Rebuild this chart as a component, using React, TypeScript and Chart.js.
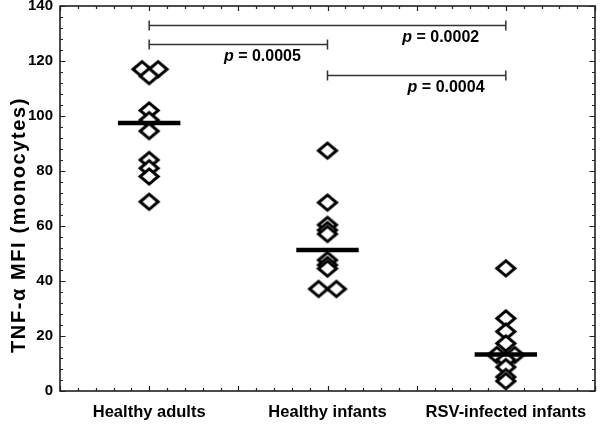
import React, { useEffect, useRef } from 'react';
import { Chart, registerables } from 'chart.js';

Chart.register(...registerables);

// ---- data ----
const categories = ['Healthy adults', 'Healthy infants', 'RSV-infected infants'];
const adultsValues = [117, 117, 114.5, 102, 98.5, 94.5, 84, 81, 78, 68.8];
const adultsJitter = [-0.08, 0.1, 0, 0, 0, 0, 0, 0, 0, 0];
const infantsValues = [87.4, 68.5, 60.4, 58.5, 57.1, 47.6, 45.8, 44.5, 37.1, 37.1];
const infantsJitter = [0, 0, 0, 0, 0, 0, 0, 0, -0.1, 0.1];
const rsvValues = [44.6, 26.4, 21.6, 17.3, 13.1, 13.1, 11.3, 8.7, 5.1, 3.6];
const rsvJitter = [0, 0, 0, 0, -0.1, 0.1, 0, 0, 0, 0];
const meanValues = [97.5, 51.3, 13.3];

const yMin = 0;
const yMax = 140;
const yMajorStep = 20;
const yMinorStep = 4;

// significance brackets (category indices, y value, p value, label centre in x units)
const bracketFrom = [0, 0, 1];
const bracketTo = [2, 1, 2];
const bracketY = [133, 126, 115];
const pValues = ['0.0002', '0.0005', '0.0004'];
const pLabelX = [4.27, 2.27, 4.33];

const yTitle = 'TNF-\u03b1 MFI (monocytes)';

const FONT = '"Liberation Sans", Arial, Helvetica, sans-serif';

const catX = (i: number) => 2 * i + 1;

function makeDiamond(): HTMLCanvasElement {
  const c = document.createElement('canvas');
  c.width = 26;
  c.height = 23;
  const g = c.getContext('2d')!;
  const cx = 13, cy = 11.5, hw = 9, hh = 7.6;
  g.beginPath();
  g.moveTo(cx - hw, cy);
  g.lineTo(cx, cy - hh);
  g.lineTo(cx + hw, cy);
  g.lineTo(cx, cy + hh);
  g.closePath();
  g.fillStyle = '#ffffff';
  g.fill();
  g.lineWidth = 3;
  g.strokeStyle = '#000000';
  g.lineJoin = 'miter';
  g.stroke();
  return c;
}

const decorPlugin = {
  id: 'decor',
  afterDraw(chart: any) {
    const ctx = chart.ctx as CanvasRenderingContext2D;
    const xs = chart.scales.x;
    const ys = chart.scales.y;
    const { left, right, top, bottom } = chart.chartArea;
    ctx.save();

    // frame
    ctx.strokeStyle = '#111';
    ctx.lineWidth = 1.5;
    ctx.strokeRect(left, top, right - left, bottom - top);

    // inward ticks
    ctx.lineWidth = 1.2;
    ctx.strokeStyle = '#222';
    ctx.beginPath();
    for (let v = xs.min; v <= xs.max + 1e-6; v += 0.2) {
      const major = Math.abs(v - Math.round(v)) < 1e-6;
      const len = major ? 5 : 3;
      const px = Math.round(xs.getPixelForValue(v)) + 0.5;
      ctx.moveTo(px, bottom);
      ctx.lineTo(px, bottom - len);
      ctx.moveTo(px, top);
      ctx.lineTo(px, top + len);
    }
    for (let v = yMin; v <= yMax + 1e-6; v += yMinorStep) {
      const major = v % yMajorStep === 0;
      const len = major ? 5.5 : 3;
      const py = Math.round(ys.getPixelForValue(v)) + 0.5;
      ctx.moveTo(left, py);
      ctx.lineTo(left + len, py);
      ctx.moveTo(right, py);
      ctx.lineTo(right - len, py);
    }
    ctx.stroke();

    // brackets
    ctx.strokeStyle = '#333';
    ctx.lineWidth = 1.5;
    for (let i = 0; i < bracketY.length; i++) {
      const x1 = xs.getPixelForValue(catX(bracketFrom[i]));
      const x2 = xs.getPixelForValue(catX(bracketTo[i]));
      const y = Math.round(ys.getPixelForValue(bracketY[i])) + 0.5;
      ctx.beginPath();
      ctx.moveTo(x1, y);
      ctx.lineTo(x2, y);
      ctx.moveTo(x1, y - 5);
      ctx.lineTo(x1, y + 5);
      ctx.moveTo(x2, y - 5);
      ctx.lineTo(x2, y + 5);
      ctx.stroke();

      // label
      const cx = xs.getPixelForValue(pLabelX[i]);
      const cy = y + 12;
      ctx.fillStyle = '#000';
      ctx.textBaseline = 'middle';
      const italic = `italic bold 16px ${FONT}`;
      const normal = `bold 16px ${FONT}`;
      ctx.font = italic;
      const w1 = ctx.measureText('p').width;
      ctx.font = normal;
      const rest = ' = ' + pValues[i];
      const w2 = ctx.measureText(rest).width;
      const start = cx - (w1 + w2) / 2;
      ctx.textAlign = 'left';
      ctx.font = italic;
      ctx.fillText('p', start, cy);
      ctx.font = normal;
      ctx.fillText(rest, start + w1, cy);
    }

    // y title
    ctx.translate(19, 225);
    ctx.rotate(-Math.PI / 2);
    ctx.font = `bold 20px ${FONT}`;
    (ctx as any).letterSpacing = '1.6px';
    ctx.textAlign = 'center';
    ctx.textBaseline = 'middle';
    ctx.fillStyle = '#000';
    ctx.fillText(yTitle, 0, 0);
    ctx.restore();
  },
};

export default function App() {
  const ref = useRef<HTMLCanvasElement | null>(null);

  useEffect(() => {
    if (!ref.current) return;
    const diamond = makeDiamond();
    const groups = [
      { values: adultsValues, jitter: adultsJitter },
      { values: infantsValues, jitter: infantsJitter },
      { values: rsvValues, jitter: rsvJitter },
    ];
    const scatterSets = groups.map((g, i) => ({
      type: 'scatter' as const,
      label: categories[i],
      data: g.values.map((v, k) => ({ x: catX(i) + g.jitter[k], y: v })),
      pointStyle: diamond,
      pointRadius: 9,
      pointHoverRadius: 9,
      order: 1,
    }));
    const meanSets = meanValues.map((m, i) => ({
      type: 'line' as const,
      label: 'mean ' + categories[i],
      data: [
        { x: catX(i) - 0.35, y: m },
        { x: catX(i) + 0.35, y: m },
      ],
      borderColor: '#000',
      borderWidth: 4.5,
      pointRadius: 0,
      fill: false,
      order: 0,
    }));

    const chart = new Chart(ref.current, {
      type: 'scatter',
      data: { datasets: [...meanSets, ...scatterSets] as any },
      options: {
        animation: false,
        responsive: false,
        layout: { autoPadding: false, padding: { top: 6, right: 5, left: 0, bottom: 0 } },
        plugins: { legend: { display: false }, tooltip: { enabled: false } },
        scales: {
          x: {
            type: 'linear',
            min: 0,
            max: 6,
            grid: { display: false, drawTicks: false },
            border: { display: false },
            ticks: {
              stepSize: 1,
              autoSkip: false,
              maxRotation: 0,
              padding: 12,
              color: '#000',
              font: { family: FONT, size: 16.5, weight: 'bold' },
              callback: (v: any) => {
                const i = (Number(v) - 1) / 2;
                return Number.isInteger(i) && i >= 0 && i < categories.length ? categories[i] : '';
              },
            },
            afterFit: (s: any) => {
              s.height = 33;
              s.paddingLeft = 0;
              s.paddingRight = 0;
            },
          },
          y: {
            type: 'linear',
            min: yMin,
            max: yMax,
            grid: { display: false, drawTicks: false },
            border: { display: false },
            ticks: {
              stepSize: yMajorStep,
              padding: 7,
              color: '#000',
              font: { family: FONT, size: 15, weight: 'bold' },
            },
            afterFit: (s: any) => {
              s.width = 60;
              s.paddingTop = 0;
              s.paddingBottom = 0;
            },
          },
        },
      },
      plugins: [decorPlugin],
    });
    return () => chart.destroy();
  }, []);

  return (
    <div style={{ position: 'fixed', left: 0, top: 0, width: 600, height: 424, background: '#fff' }}>
      <canvas ref={ref} width={600} height={424} style={{ display: 'block' }} />
    </div>
  );
}
